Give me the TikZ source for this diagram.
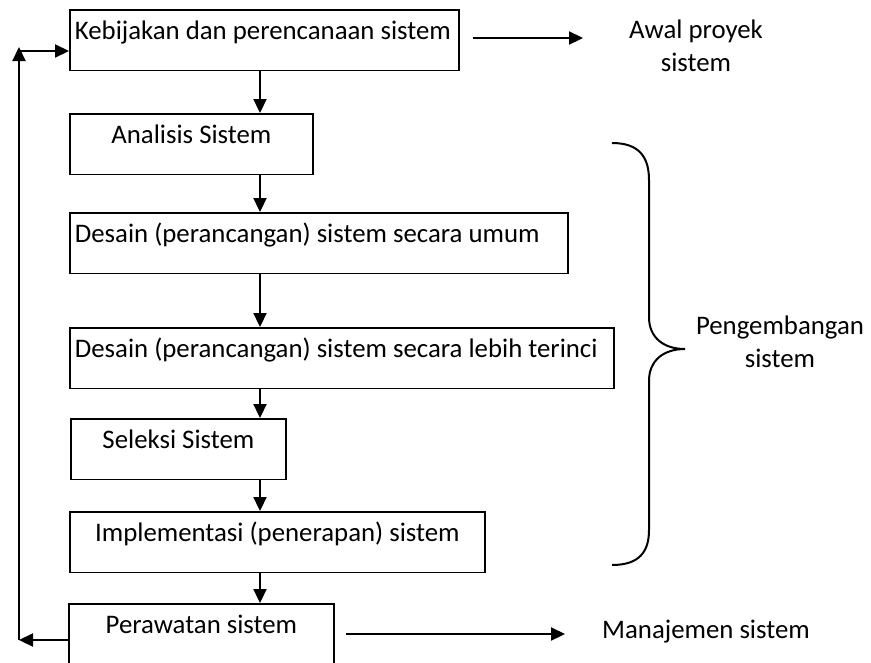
\documentclass[tikz,border=0pt]{standalone}
\usepackage{fontspec}
\setmainfont{Carlito}
\usepackage{tikz}
\usetikzlibrary{arrows.meta,positioning,calc}

\begin{document}
\begin{tikzpicture}[
    x=1pt, y=-1pt,
    box/.style={rectangle, draw, line width=1.8pt, anchor=north west, inner xsep=5pt, inner ysep=0pt,
        text height=29.5pt, text depth=31pt, font=\fontsize{26.8pt}{33pt}\selectfont},
    leftbox/.style={box, text width=#1, align=flush left},
    midbox/.style={box, minimum width=#1},
    note/.style={font=\fontsize{26.8pt}{33pt}\selectfont, inner sep=0pt},
    flowarrow/.style={-{Triangle[length=14pt, width=13pt]}, line width=2.2pt},
    bracepath/.style={line width=2pt}
]
    \useasboundingbox (0,0) rectangle (871,662);

    % Stage Nodes
    \node[leftbox=379pt] (POLICY) at (69,9) {Kebijakan dan perencanaan sistem};
    \node[midbox=243pt] (ANALYSIS) at (69,113) {Analisis Sistem};
    \node[leftbox=488pt] (GENDESIGN) at (69,212) {Desain (perancangan) sistem secara umum};
    \node[leftbox=534pt] (DETDESIGN) at (69,327) {Desain (perancangan) sistem secara lebih terinci};
    \node[midbox=215pt] (SELECT) at (70,418) {Seleksi Sistem};
    \node[midbox=415pt] (IMPL) at (69,511) {Implementasi (penerapan) sistem};
    \node[midbox=265pt] (MAINT) at (68,603) {Perawatan sistem};

    % Side Notes
    \node[note, align=center] (START) at (696,46) {Awal proyek\\sistem};
    \node[note, align=center] (DEV) at (780,342) {Pengembangan\\sistem};
    \node[note, anchor=base west] (MGMT) at (602,638) {Manajemen sistem};

    % Helper coordinates
    \coordinate (spine) at (260,0);
    \coordinate (fbbottom) at (19,640);
    \coordinate (fbtop) at (19,51);
    \coordinate (startend) at (583,38);
    \coordinate (mgmtend) at (565,634);

    % Main flow
    \draw[flowarrow] (POLICY.south -| spine) -- (ANALYSIS.north -| spine);
    \draw[flowarrow] (ANALYSIS.south -| spine) -- (GENDESIGN.north -| spine);
    \draw[flowarrow] (GENDESIGN.south -| spine) -- (DETDESIGN.north -| spine);
    \draw[flowarrow] (DETDESIGN.south -| spine) -- (SELECT.north -| spine);
    \draw[flowarrow] (SELECT.south -| spine) -- (IMPL.north -| spine);
    \draw[flowarrow] (IMPL.south -| spine) -- (MAINT.north -| spine);

    % Feedback loop
    \draw[flowarrow] (MAINT.west |- fbbottom) -- (fbbottom);
    \draw[flowarrow] (fbbottom) -- ([yshift=4pt]fbtop);
    \draw[flowarrow] ([xshift=-1pt]fbtop) -- (POLICY.west |- fbtop);

    % Outputs
    \draw[flowarrow] ([xshift=13pt]POLICY.east |- startend) -- (startend);
    \draw[flowarrow] ([xshift=11pt]MAINT.east |- mgmtend) -- (mgmtend);

    % Brace
    \draw[bracepath] (612,143) .. controls (640,143) and (649,158) .. (649,180) -- (649,317)
        .. controls (649,338) and (664,349) .. (685,349)
        .. controls (664,349) and (649,360) .. (649,381) -- (649,530)
        .. controls (649,551) and (640,565) .. (612,565);
\end{tikzpicture}
\end{document}
